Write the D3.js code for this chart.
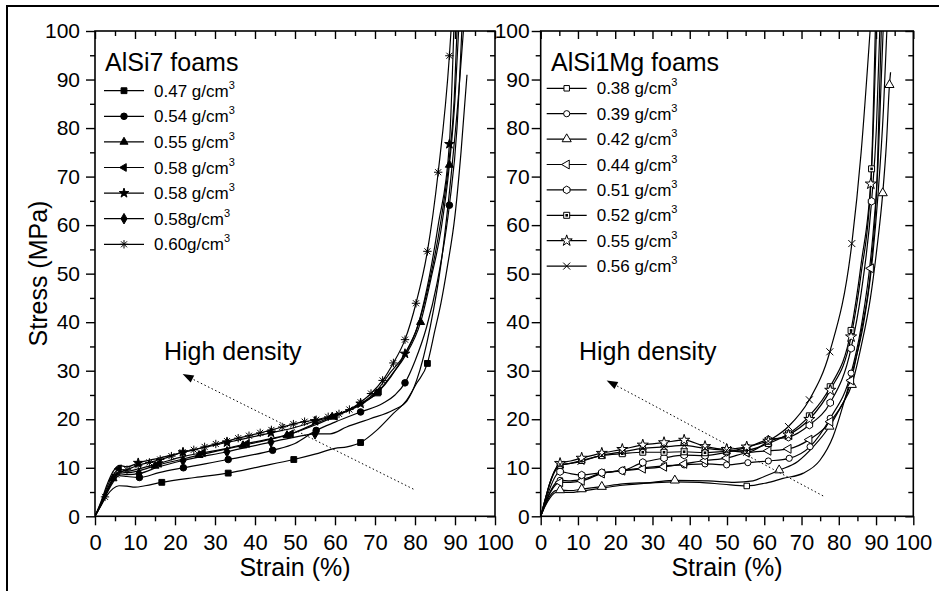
<!DOCTYPE html>
<html><head><meta charset="utf-8">
<script src="https://cdn.jsdelivr.net/npm/d3@7"></script>
<style>
body{margin:0;background:#fff}
svg{display:block}
text{font-family:"Liberation Sans",Arial,Helvetica,sans-serif;fill:#000}
</style>
</head><body>
<svg id="c" width="939" height="591"></svg>
<script>
// ---------- tick data ----------
const majorTicks = [0,10,20,30,40,50,60,70,80,90,100];
const majorLabels = ["0","10","20","30","40","50","60","70","80","90","100"];
const minorTicks = [5,15,25,35,45,55,65,75,85,95];

// ---------- AlSi7 foams (strain %, stress MPa) ----------
const a7_047 = [[0,0],[1.5,2.2],[3,4.3],[4.5,5.7],[6,6.3],[8,6.2],[10,6.0],[12.5,6.3],[16.7,7.0],[25,8.0],[33.3,8.9],[41,10.2],[49.7,11.7],[55,12.8],[60,14.0],[63,14.3],[66.4,15.2],[70.4,17.7],[74.6,21.2],[77.9,23.9],[80.4,27.4],[83.1,31.5],[85,38.4],[86.5,44],[88,51],[90,62],[91.5,75],[93,91]];
const a7_047_m = [16.7,33.3,49.7,66.4,83.1];
const a7_054 = [[0,0],[1.5,2.3],[3,4.8],[4.5,7.0],[6,8.4],[8,8.2],[11.1,8.0],[16,9.0],[22.1,10.0],[33.3,11.7],[44.4,13.6],[50,15.0],[55.3,17.7],[60,19.4],[66.4,21.5],[72,23.3],[75,25],[77.5,27.5],[80,32],[82.9,39],[85.5,48],[88.6,64.1],[90.5,80],[91.7,100]];
const a7_054_m = [11.1,22.1,33.3,44.4,55.3,66.4,77.5,88.6];
const a7_055 = [[0,0],[1.5,2.6],[3,5.5],[4.5,7.8],[6,9.2],[8,9.0],[11,9.4],[15,10.4],[22,11.8],[26,12.6],[37,14.6],[44,15.9],[48,16.7],[55.3,19.2],[59.3,20.5],[66.4,23.2],[70.4,25.3],[74,29],[77.5,33],[81.4,40],[84,49],[86.5,59],[88.6,72.4],[90,86],[90.9,100]];
const a7_055_m = [4.5,15,26,37,48,59.3,70.4,81.4,88.6];
const a7_058a = [[0,0],[1.5,2.8],[3,6.0],[4.5,8.4],[6,9.8],[8,9.3],[11,9.8],[16,10.9],[22,12.3],[27,13.1],[33,14.0],[38,15.0],[44,16.0],[49,17.0],[55,18.8],[60,20.6],[66.4,23.0],[71,25.8],[74,28.8],[77.5,33.5],[80.6,39],[83.5,48],[86.5,61],[88.6,74],[89.8,86],[90.5,100]];
const a7_058a_m = [6,16,27,38,49,60,71];
const a7_058b = [[0,0],[1.5,3.0],[3,6.5],[4.5,9.2],[6,10.5],[8,10.2],[10.8,11.0],[16,12.0],[22,13.2],[33,15.2],[44,17.2],[50,18.3],[55,19.6],[60,20.8],[66.4,23.2],[70,25.5],[74,29.8],[77.5,33.5],[80.6,39],[83,47],[85.8,60],[88.6,76.7],[89.7,100]];
const a7_058b_m = [10.8,22,33,44,55,66.4,77.5,88.6];
const a7_058c = [[0,0],[1.5,2.5],[3,5.2],[4.5,7.4],[6,8.8],[8,8.6],[11,8.8],[16,10.2],[22,11.5],[33,13.3],[44,15.3],[50,16.3],[55,17.0],[58.8,17.0],[62.9,18.4],[68.8,20.1],[74.6,21.9],[78,23.8],[80.4,28],[83.8,39],[86.5,52],[89,70],[91,88],[92.1,100]];
const a7_058c_m = [11,22,33,44,55];
const a7_060 = [[0,0],[2.5,4.0],[5.3,8.6],[8.0,9.6],[10.8,10.5],[13.6,11.1],[16.3,11.7],[19.1,12.4],[21.9,13.2],[24.7,13.7],[27.4,14.3],[30.2,14.9],[33.0,15.5],[35.8,16.1],[38.5,16.6],[41.3,17.2],[44.1,17.8],[46.8,18.4],[49.6,19.0],[52.4,19.5],[55.3,19.9],[58.3,20.5],[61.0,21.1],[63.6,22.0],[66.4,23.5],[69.0,25.3],[71.9,28.0],[74.6,31.6],[77.5,36.4],[80.25,43.9],[83.1,54.6],[85.8,70.9],[88.6,94.9],[89.0,100]];
const a7_060_m = [2.5,5.3,8.0,10.8,13.6,16.3,19.1,21.9,24.7,27.4,30.2,33.0,35.8,38.5,41.3,44.1,46.8,49.6,52.4,55.3,58.3,61.0,63.6,66.4,69.0,71.9,74.6,77.5,80.25,83.1,85.8,88.6];

// ---------- AlSi1Mg foams ----------
const mg_038 = [[0,0],[1,1.8],[2.5,3.8],[4,4.9],[5.5,5.0],[8,4.9],[11,5.2],[16.4,5.8],[22,6.4],[30,6.9],[36,7.1],[42.7,7.0],[49,6.6],[55.3,6.25],[60.7,6.9],[65,7.8],[70.5,8.9],[74.9,11.5],[78.5,16.5],[81.2,23.0],[83.9,30.5],[86.6,39.5],[88.6,50],[90.5,66],[92,84],[92.9,100]];
const mg_038_m = [55.3];
const mg_039 = [[0,0],[1,2.2],[2.5,5],[4,6.9],[5.2,7.4],[8,7.3],[11,7.6],[16.4,8.9],[21.9,9.4],[27.4,10.0],[33.1,10.4],[38.5,10.6],[44.1,10.8],[49.9,10.6],[55.6,11.05],[61.1,11.4],[66.7,11.95],[72.3,14.35],[77.7,20.2],[83.3,29.5],[86,39],[88.8,55],[90.5,72],[91.9,100]];
const mg_039_m = [5.2,11,16.4,21.9,27.4,33.1,38.5,44.1,49.9,55.6,61.1,66.7,72.3,77.7,83.3];
const mg_042 = [[0,0],[1,1.9],[2.5,4.2],[4,5.3],[5.2,5.4],[8,5.3],[11,5.6],[16.4,6.1],[22,6.7],[30,7.0],[36,7.4],[45,7.3],[52,7.0],[57,7.3],[60,8.2],[64,9.5],[69,11.3],[73,14.2],[77.5,18.5],[80.5,22.5],[83.5,27.1],[86,35],[88.5,45],[90.2,55],[91.8,66.6],[92.8,77],[93.6,88.9],[93.9,91.5]];
const mg_042_m = [5.2,11,16.4,36,64,77.5,83.5,91.8,93.6];
const mg_044 = [[0,0],[1,2.1],[2.5,4.8],[4,6.5],[5.2,7.0],[8,7.0],[11,7.3],[16.4,8.8],[21.9,9.4],[27.4,9.8],[33.1,10.2],[38.5,10.8],[44.1,11.5],[49.9,12.0],[55.3,13.1],[61.1,13.5],[66.5,13.9],[72.1,15.8],[77.7,19.5],[83.3,28],[86,38],[88.6,51.1],[90.3,70],[91.4,100]];
const mg_044_m = [5.2,11,16.4,21.9,27.4,33.1,38.5,44.1,49.9,55.3,61.1,66.5,72.1,77.7,83.3,88.6];
const mg_051 = [[0,0],[1,2.4],[2.5,5.8],[4,8.3],[5.2,9.2],[8,8.8],[11,8.5],[16.4,9.0],[21.9,9.4],[27.4,11.1],[33.1,12.0],[38.5,12.6],[44.1,12.5],[49.9,13.2],[55.3,14.2],[61.1,15.8],[66.5,16.3],[72.1,18.8],[77.7,23.4],[83.3,34.6],[86,46],[88.8,64.9],[90.1,80],[91.0,100]];
const mg_051_m = [5.2,11,16.4,21.9,27.4,33.1,38.5,44.1,49.9,55.3,61.1,66.5,72.1,77.7,83.3,88.8];
const mg_052 = [[0,0],[1,2.8],[2.5,6.8],[4,9.5],[5.2,10.5],[8,10.9],[11,11.5],[16.4,12.5],[21.9,12.9],[27.4,13.2],[33.1,13.2],[38.5,13.3],[44.1,13.1],[49.9,13.4],[55.3,13.6],[61.1,15.0],[66.5,17.0],[72.1,20.7],[77.7,26.7],[83.3,38.3],[86,52],[88.8,71.6],[90.1,100]];
const mg_052_m = [5.2,11,16.4,21.9,27.4,33.1,38.5,44.1,49.9,55.3,61.1,66.5,72.1,77.7,83.3,88.8];
const mg_055 = [[0,0],[1,2.9],[2.5,7],[4,9.8],[5.2,10.9],[8,11.4],[11,12.0],[16.4,13.0],[21.9,13.8],[27.4,14.7],[33.1,15.2],[38.5,15.7],[44.1,14.4],[49.9,13.8],[55.3,14.3],[61.1,15.5],[66.5,16.8],[72.1,20.0],[77.7,26.0],[83.3,37],[86,50],[88.6,68.5],[89.8,100]];
const mg_055_m = [5.2,11,16.4,21.9,27.4,33.1,38.5,44.1,49.9,55.3,61.1,66.5,72.1,77.7,83.3,88.6];
const mg_056 = [[0,0],[1,2.9],[2.5,7],[4,9.7],[5.2,10.7],[8,10.9],[10.8,11.3],[16.4,12.6],[21.9,13.3],[27.4,14.0],[33.1,14.3],[38.5,14.6],[44.1,14.0],[49.9,13.6],[55.3,13.2],[61.1,15.5],[66.5,18.5],[72.1,24.0],[77.6,33.9],[83.5,56.2],[86,75],[88.4,100]];
const mg_056_m = [5.2,10.8,16.4,21.9,27.4,33.1,38.5,44.1,49.9,55.3,61.1,66.5,72.1,77.6,83.5];

// ---------- legend labels ----------
const a7Labels = ["0.47 g/cm","0.54 g/cm","0.55 g/cm","0.58 g/cm","0.58 g/cm","0.58g/cm","0.60g/cm"];
const mgLabels = ["0.38 g/cm","0.39 g/cm","0.42 g/cm","0.44 g/cm","0.51 g/cm","0.52 g/cm","0.55 g/cm","0.56 g/cm"];

// ---------- arrows (strain, stress): head then tail ----------
const a7Arrow = [[21.9,29.3],[79.6,5.6]];
const mgArrow = [[17.7,28.0],[75.8,4.2]];

const leftSeries = [
  {d:a7_047,m:a7_047_m,s:"square"},{d:a7_054,m:a7_054_m,s:"circle"},{d:a7_055,m:a7_055_m,s:"triangle"},
  {d:a7_058a,m:a7_058a_m,s:"ltriangle"},{d:a7_058b,m:a7_058b_m,s:"star"},{d:a7_058c,m:a7_058c_m,s:"diamond"},
  {d:a7_060,m:a7_060_m,s:"asterisk"}];
const rightSeries = [
  {d:mg_038,m:mg_038_m,s:"square"},{d:mg_039,m:mg_039_m,s:"circle"},{d:mg_042,m:mg_042_m,s:"triangle"},
  {d:mg_044,m:mg_044_m,s:"ltriangle"},{d:mg_051,m:mg_051_m,s:"hexagon"},{d:mg_052,m:mg_052_m,s:"sqdot"},
  {d:mg_055,m:mg_055_m,s:"star"},{d:mg_056,m:mg_056_m,s:"x"}];

const svg = d3.select("#c");
svg.append("rect").attr("width",939).attr("height",591).attr("fill","#fff");
svg.append("rect").attr("x",7).attr("y",6).attr("width",980).attr("height",640)
  .attr("fill","none").attr("stroke","#000").attr("stroke-width",2);

const yTop = 31, yBot = 516.3;

function drawSymbol(g, type, filled, cx, cy) {
  const fill = filled ? "#000" : "#fff";
  const t = `translate(${cx},${cy})`;
  let p;
  const sym = (ty, size) => d3.symbol().type(ty).size(size)();
  switch(type) {
    case "square": p = g.append("path").attr("d", sym(d3.symbolSquare, filled?34:30)); break;
    case "circle": p = g.append("path").attr("d", sym(d3.symbolCircle, filled?34:30)); break;
    case "triangle": p = g.append("path").attr("d", sym(d3.symbolTriangle, filled?28:36)); break;
    case "ltriangle": p = g.append("path").attr("d", sym(d3.symbolTriangle, filled?26:34)); break;
    case "star": p = g.append("path").attr("d", sym(d3.symbolStar, filled?28:38)); break;
    case "diamond": p = g.append("path").attr("d", sym(d3.symbolDiamond, 32)); break;
    case "hexagon": {
      const r = 3.8, pts = [];
      for (let k=0;k<6;k++){const a=Math.PI/6+k*Math.PI/3; pts.push([r*Math.cos(a), r*Math.sin(a)]);}
      p = g.append("path").attr("d","M"+pts.map(q=>q.join(",")).join("L")+"Z"); break;
    }
    case "sqdot": p = g.append("path").attr("d","M-3,-3H3V3H-3Z"); break;
    case "asterisk": p = g.append("path").attr("d","M0,-4.2V4.2M-4.2,0H4.2M-3,-3L3,3M-3,3L3,-3"); break;
    case "x": p = g.append("path").attr("d","M-3.5,-3.5L3.5,3.5M-3.5,3.5L3.5,-3.5"); break;
  }
  const strokeOnly = (type==="asterisk"||type==="x");
  p.attr("transform", t + (type==="ltriangle" ? " rotate(-90)" : ""))
   .attr("fill", strokeOnly ? "none" : fill)
   .attr("stroke","#000").attr("stroke-width", 1);
  if (type==="sqdot") {
    g.append("rect").attr("x",cx-1.3).attr("y",cy-1.3).attr("width",2.6).attr("height",2.6).attr("fill","#000");
  }
}

function drawPanel(p) {
  const x = d3.scaleLinear().domain([0,100]).range([p.x0,p.x1]);
  const y = d3.scaleLinear().domain([0,100]).range([yBot,yTop]);
  const g = svg.append("g");
  const styleAxis = (sel, fs) => {
    sel.select(".domain").remove();
    sel.selectAll("line").attr("stroke","#000").attr("stroke-width",1.4);
    sel.selectAll("text").attr("font-size",fs).attr("font-family","'Liberation Sans',Arial,sans-serif").attr("fill","#000");
  };
  // bottom
  g.append("g").attr("transform",`translate(0,${yBot})`)
    .call(d3.axisBottom(x).tickValues(majorTicks).tickSize(9).tickPadding(9).tickFormat((d,i)=>majorLabels[i]))
    .call(s=>styleAxis(s,22));
  g.append("g").attr("transform",`translate(0,${yBot})`)
    .call(d3.axisBottom(x).tickValues(minorTicks).tickSize(5).tickFormat(""))
    .call(s=>styleAxis(s,22));
  // top (inward)
  g.append("g").attr("transform",`translate(0,${yTop})`)
    .call(d3.axisTop(x).tickValues(majorTicks).tickSize(-8).tickFormat(""))
    .call(s=>styleAxis(s,22));
  g.append("g").attr("transform",`translate(0,${yTop})`)
    .call(d3.axisTop(x).tickValues(minorTicks).tickSize(-5).tickFormat(""))
    .call(s=>styleAxis(s,22));
  // left
  g.append("g").attr("transform",`translate(${p.x0},0)`)
    .call(d3.axisLeft(y).tickValues(majorTicks).tickSize(9).tickPadding(p.yPad).tickFormat((d,i)=>majorLabels[i]))
    .call(s=>styleAxis(s,21));
  g.append("g").attr("transform",`translate(${p.x0},0)`)
    .call(d3.axisLeft(y).tickValues(minorTicks).tickSize(5).tickFormat(""))
    .call(s=>styleAxis(s,21));
  // right (inward)
  g.append("g").attr("transform",`translate(${p.x1},0)`)
    .call(d3.axisRight(y).tickValues(majorTicks).tickSize(-8).tickFormat(""))
    .call(s=>styleAxis(s,21));
  g.append("g").attr("transform",`translate(${p.x1},0)`)
    .call(d3.axisRight(y).tickValues(minorTicks).tickSize(-5).tickFormat(""))
    .call(s=>styleAxis(s,21));
  // frame
  g.append("rect").attr("x",p.x0).attr("y",yTop).attr("width",p.x1-p.x0).attr("height",yBot-yTop)
    .attr("fill","none").attr("stroke","#000").attr("stroke-width",1.6);

  // clip
  const cid = "clip"+p.id;
  svg.append("clipPath").attr("id",cid).append("rect")
    .attr("x",p.x0).attr("y",yTop).attr("width",p.x1-p.x0).attr("height",yBot-yTop);
  const plot = g.append("g").attr("clip-path",`url(#${cid})`);
  const line = d3.line().x(d=>x(d[0])).y(d=>y(d[1])).curve(d3.curveMonotoneX);
  p.series.forEach(s=>{
    plot.append("path").attr("d",line(s.d)).attr("fill","none").attr("stroke","#000").attr("stroke-width",1.2);
  });
  p.series.forEach(s=>{
    const mg = plot.append("g");
    s.m.forEach(v=>{
      const pt = s.d.find(q=>Math.abs(q[0]-v)<0.01);
      if (pt) drawSymbol(mg, s.s, p.filled, x(pt[0]), y(pt[1]));
    });
  });

  // arrow
  const hx = x(p.arrow[0][0]), hy = y(p.arrow[0][1]);
  const tx = x(p.arrow[1][0]), ty = y(p.arrow[1][1]);
  const ang = Math.atan2(hy-ty, hx-tx);
  const L = 11, W = 4;
  const bx = hx - L*Math.cos(ang), by = hy - L*Math.sin(ang);
  g.append("line").attr("x1",tx).attr("y1",ty).attr("x2",bx).attr("y2",by)
    .attr("stroke","#000").attr("stroke-width",1).attr("stroke-dasharray","1.5,2.5");
  g.append("path").attr("d",`M${hx},${hy}L${bx - W*Math.sin(ang)},${by + W*Math.cos(ang)}L${bx + W*Math.sin(ang)},${by - W*Math.cos(ang)}Z`)
    .attr("fill","#000");
  g.append("text").attr("x",p.hdX).attr("y",360).attr("font-size",25).text("High density");

  // x title
  g.append("text").attr("x",(p.x0+p.x1)/2).attr("y",576).attr("text-anchor","middle").attr("font-size",25).text("Strain (%)");

  // legend
  g.append("text").attr("x",p.legTitleX).attr("y",70.5).attr("font-size",25).text(p.title);
  p.series.forEach((s,i)=>{
    const ry = p.legY0 + i*p.legDy;
    g.append("line").attr("x1",p.legX0).attr("x2",p.legX0+40).attr("y1",ry).attr("y2",ry)
      .attr("stroke","#000").attr("stroke-width",1.2);
    drawSymbol(g, s.s, p.filled, p.legX0+20, ry);
    const t = g.append("text").attr("x",p.legX0+50).attr("y",ry+6).attr("font-size",17);
    t.append("tspan").text(p.labels[i]);
    t.append("tspan").attr("font-size",11).attr("dy",-8).text("3");
  });
}

drawPanel({id:"L", x0:95, x1:495, series:leftSeries, filled:true, title:"AlSi7 foams", labels:a7Labels,
  arrow:a7Arrow, hdX:164, legTitleX:105, legX0:104, legY0:90.7, legDy:25.6, yPad:6});
drawPanel({id:"R", x0:540.7, x1:913.3, series:rightSeries, filled:false, title:"AlSi1Mg foams", labels:mgLabels,
  arrow:mgArrow, hdX:579, legTitleX:551, legX0:546.7, legY0:88.3, legDy:25.4, yPad:2});

// y title
svg.append("text").attr("transform","translate(47,273.5) rotate(-90)").attr("text-anchor","middle")
  .attr("font-size",25).text("Stress (MPa)");
</script>
</body></html>
